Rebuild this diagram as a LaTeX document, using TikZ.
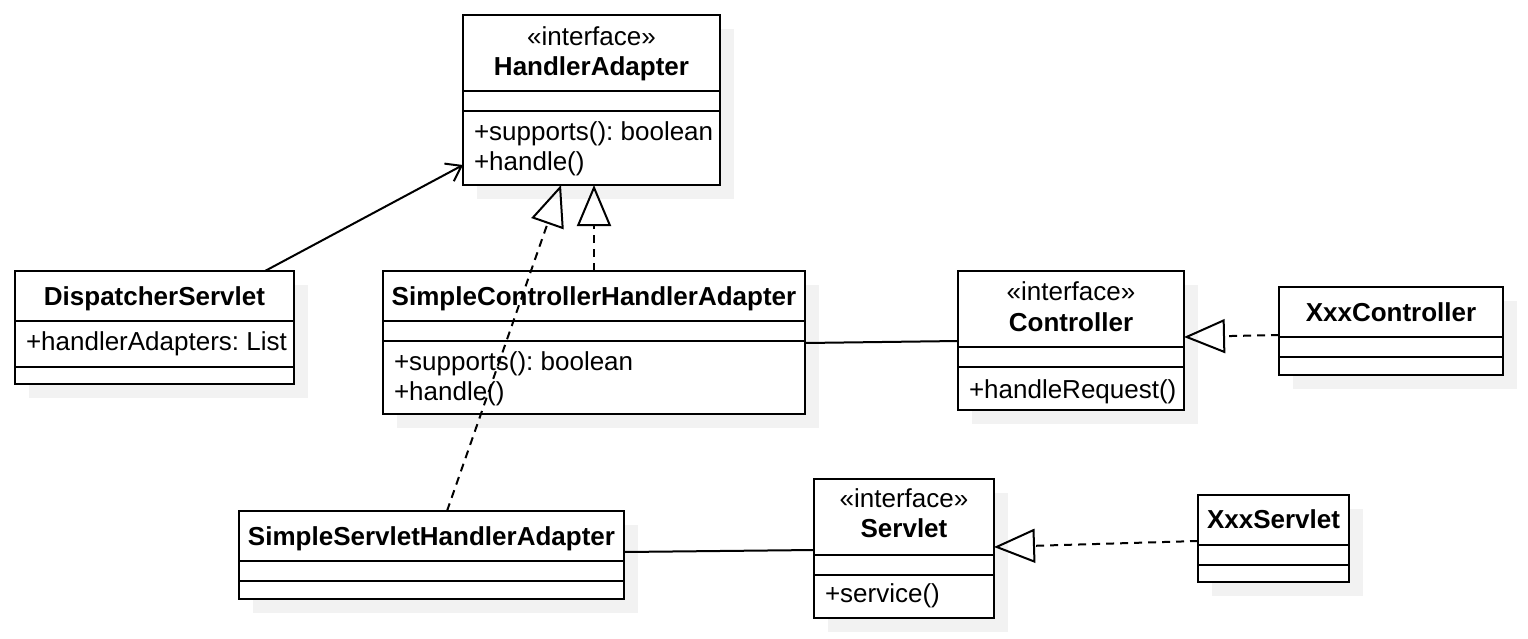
\documentclass[tikz,border=0pt]{standalone}
\usepackage{fontspec}
\setmainfont{Liberation Sans}
\usetikzlibrary{arrows.meta}
\frenchspacing

\begin{document}
\begin{tikzpicture}[x=1pt,y=-1pt,>={Straight Barb[length=14pt,width=20pt]},line width=2pt]

  \tikzstyle{classbox}=[rectangle,draw=black,fill=white,anchor=north west,inner sep=0pt,outer sep=0pt]
  \tikzstyle{shade}=[fill=black!5,draw=none]
  \tikzstyle{stereo}=[anchor=base,inner sep=0pt,font=\fontsize{26}{30}\selectfont]
  \tikzstyle{cname}=[anchor=base,inner sep=0pt,font=\fontsize{26}{30}\selectfont\bfseries]
  \tikzstyle{member}=[anchor=base west,inner sep=0pt,font=\fontsize{26}{30}\selectfont]
  \tikzstyle{assoc}=[draw=black]
  \tikzstyle{navig}=[->]
  \tikzstyle{realize}=[dash pattern=on 8pt off 6pt,-{Triangle[open,length=41pt,width=34pt]}]

  \useasboundingbox (0,0) rectangle (1528,638);

  % shadows
  \fill[shade] (477,29) rectangle (734,199);
  \fill[shade] (29,285) rectangle (308,398);
  \fill[shade] (397,285) rectangle (819,428);
  \fill[shade] (972,285) rectangle (1198,424);
  \fill[shade] (1293,301) rectangle (1517,389);
  \fill[shade] (253,525) rectangle (638,613);
  \fill[shade] (828,493) rectangle (1008,632);
  \fill[shade] (1212,509) rectangle (1363,596);

  % HandlerAdapter
  \node[classbox,minimum width=257pt,minimum height=170pt] (ha) at (463,15) {};
  \draw (ha.west |- 0,91) -- (ha.east |- 0,91);
  \draw (ha.west |- 0,111) -- (ha.east |- 0,111);
  \node[stereo] (ha-st) at (591.5,45) {«interface»};
  \node[cname] (ha-name) at (591.5,75) {HandlerAdapter};
  \node[member] (ha-m1) at (473,140) {+supports(): boolean};
  \node[member] (ha-m2) at (473,170) {+handle()};

  % DispatcherServlet
  \node[classbox,minimum width=279pt,minimum height=113pt] (ds) at (15,271) {};
  \draw (ds.west |- 0,321) -- (ds.east |- 0,321);
  \draw (ds.west |- 0,367) -- (ds.east |- 0,367);
  \node[cname] (ds-name) at (154.5,305) {DispatcherServlet};
  \node[member] (ds-a1) at (25,350) {+handlerAdapters: List};

  % SimpleControllerHandlerAdapter
  \node[classbox,minimum width=422pt,minimum height=143pt] (scha) at (383,271) {};
  \draw (scha.west |- 0,321) -- (scha.east |- 0,321);
  \draw (scha.west |- 0,341) -- (scha.east |- 0,341);
  \node[cname] (scha-name) at (594,305) {SimpleControllerHandlerAdapter};
  \node[member] (scha-m1) at (393,370) {+supports(): boolean};
  \node[member] (scha-m2) at (393,400) {+handle()};

  % Controller
  \node[classbox,minimum width=226pt,minimum height=139pt] (ctrl) at (958,271) {};
  \draw (ctrl.west |- 0,347) -- (ctrl.east |- 0,347);
  \draw (ctrl.west |- 0,367) -- (ctrl.east |- 0,367);
  \node[stereo] (ctrl-st) at (1071,300) {«interface»};
  \node[cname] (ctrl-name) at (1071,331) {Controller};
  \node[member] (ctrl-m1) at (968,398) {+handleRequest()};

  % XxxController
  \node[classbox,minimum width=224pt,minimum height=88pt] (xc) at (1279,287) {};
  \draw (xc.west |- 0,337) -- (xc.east |- 0,337);
  \draw (xc.west |- 0,357) -- (xc.east |- 0,357);
  \node[cname] (xc-name) at (1391,321) {XxxController};

  % SimpleServletHandlerAdapter
  \node[classbox,minimum width=385pt,minimum height=88pt] (ssha) at (239,511) {};
  \draw (ssha.west |- 0,561) -- (ssha.east |- 0,561);
  \draw (ssha.west |- 0,581) -- (ssha.east |- 0,581);
  \node[cname] (ssha-name) at (431.5,545) {SimpleServletHandlerAdapter};

  % Servlet
  \node[classbox,minimum width=180pt,minimum height=139pt] (srv) at (814,479) {};
  \draw (srv.west |- 0,555) -- (srv.east |- 0,555);
  \draw (srv.west |- 0,575) -- (srv.east |- 0,575);
  \node[stereo] (srv-st) at (904,507) {«interface»};
  \node[cname] (srv-name) at (904,537) {Servlet};
  \node[member] (srv-m1) at (824,602) {+service()};

  % XxxServlet
  \node[classbox,minimum width=151pt,minimum height=87pt] (xs) at (1198,495) {};
  \draw (xs.west |- 0,545) -- (xs.east |- 0,545);
  \draw (xs.west |- 0,565) -- (xs.east |- 0,565);
  \node[cname] (xs-name) at (1273.5,528) {XxxServlet};

  % connectors
  \draw[navig] (265,0 |- ds.north) -- (ha.west |- 0,165);
  \draw[realize] (447,0 |- ssha.north) -- (561,0 |- ha.south);
  \draw[realize] (scha.north) -- (scha.north |- ha.south);
  \draw[assoc] (scha.east |- 0,343) -- (ctrl.west |- 0,341);
  \draw[realize] (xc.west |- 0,335) -- (ctrl.east |- 0,337);
  \draw[assoc] (ssha.east |- 0,552) -- (srv.west |- 0,550);
  \draw[realize] (xs.west |- 0,541) -- (srv.east |- 0,547);

\end{tikzpicture}
\end{document}
